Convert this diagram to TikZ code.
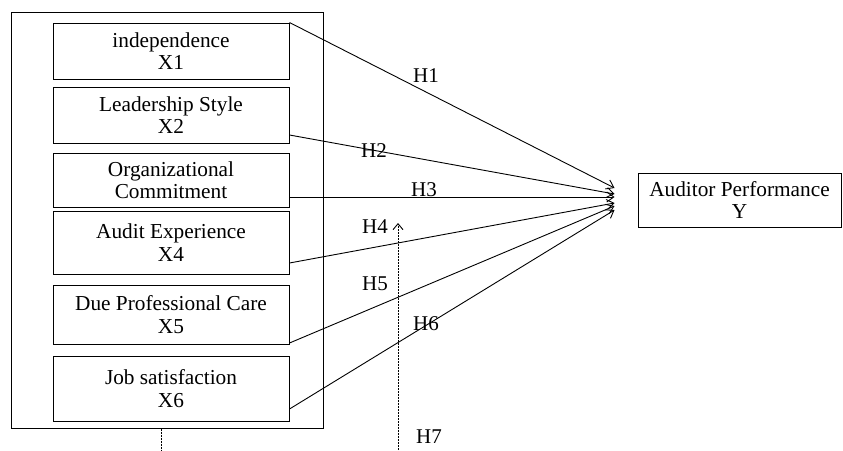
\documentclass[tikz,border=0pt]{standalone}
\usepackage{fontspec}
\setmainfont{Liberation Serif}
\usetikzlibrary{arrows.meta}
\begin{document}
\begin{tikzpicture}[x=1pt,y=-1pt,
  varbox/.style={draw, line width=1pt, minimum width=236pt, align=center, inner sep=0pt,
    font=\fontsize{21.3}{22.5}\selectfont},
  link/.style={line width=0.9pt, -{Straight Barb[length=7pt,width=10pt]}},
  hlab/.style={inner sep=0pt, font=\fontsize{21}{22}\selectfont},
  dashline/.style={line width=0.9pt, dash pattern=on 2pt off 1pt}]
\useasboundingbox (0,0) rectangle (843,450);
\node[draw, line width=1pt, minimum width=312pt, minimum height=416pt, inner sep=0pt] (outer) at (167,220) {};
\node[varbox, minimum height=56pt] (b1) at (171,51) {independence\\X1};
\node[varbox, minimum height=56pt] (b2) at (171,115) {Leadership Style\\X2};
\node[varbox, minimum height=54pt] (b3) at (171,180) {Organizational\\Commitment};
\node[varbox, minimum height=63pt] (b4) at (171,242.5) {Audit Experience\\X4};
\node[varbox, minimum height=59pt] (b5) at (171,314.5) {Due Professional Care\\X5};
\node[varbox, minimum height=65pt] (b6) at (171,388.5) {Job satisfaction\\X6};
\node[varbox, minimum width=203pt, minimum height=54pt] (y) at (739.5,200) {Auditor Performance\\Y};
\draw[link] (b1.north east) -- ([xshift=-23pt,yshift=12pt]y.west);
\draw[link] ([yshift=-20pt]b2.east) -- ([xshift=-23pt,yshift=6pt]y.west);
\draw[link] ([yshift=-17pt]b3.east) -- ([xshift=-23pt,yshift=3pt]y.west);
\draw[link] ([yshift=-20.5pt]b4.east) -- ([xshift=-23pt,yshift=-3pt]y.west);
\draw[link] ([yshift=-28.5pt]b5.east) -- ([xshift=-23pt,yshift=-6pt]y.west);
\draw[link] ([yshift=-20.5pt]b6.east) -- ([xshift=-23pt,yshift=-10pt]y.west);
\coordinate (h7start) at (398,450);
\coordinate (h7end) at (398,223);
\draw[dashline, -{Straight Barb[length=6pt,width=10pt]}] (h7start) -- (h7end);
\coordinate (stub) at (161,450);
\draw[dashline] (outer.south -| stub) -- (stub);
\node[hlab] (l1) at (426,76) {H1};
\node[hlab] (l2) at (374,151) {H2};
\node[hlab] (l3) at (424,190) {H3};
\node[hlab] (l4) at (375,227) {H4};
\node[hlab] (l5) at (375,284) {H5};
\node[hlab] (l6) at (426,324) {H6};
\node[hlab] (l7) at (429,437) {H7};
\end{tikzpicture}
\end{document}
